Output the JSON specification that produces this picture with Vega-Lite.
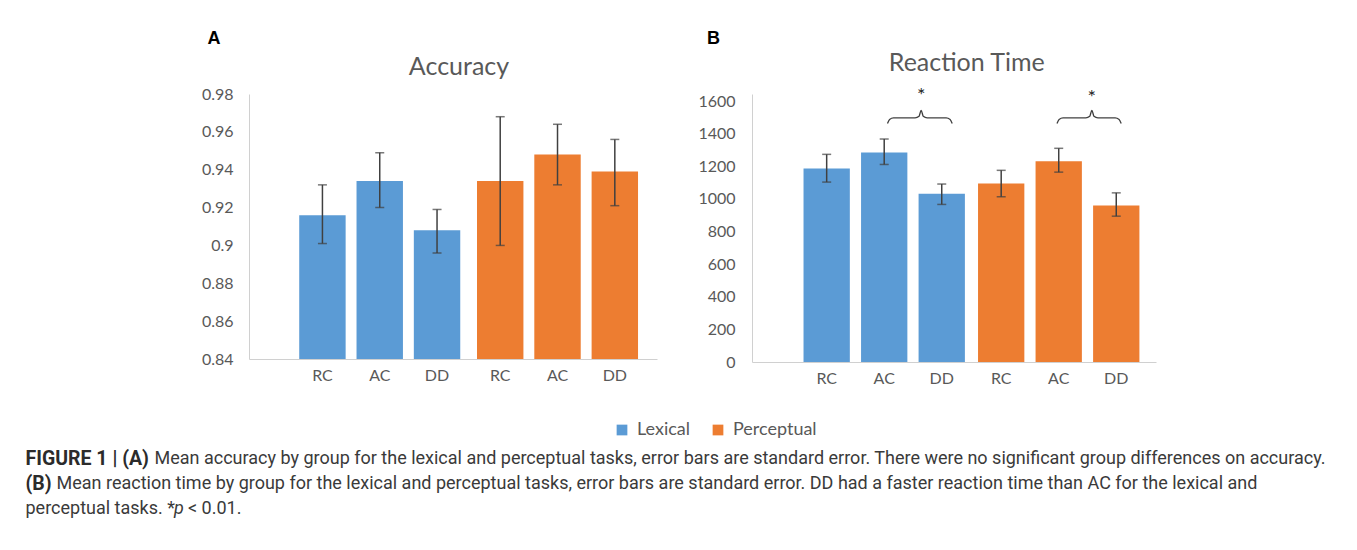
{
  "$schema": "https://vega.github.io/schema/vega-lite/v6.json",
  "padding": {"left": 25, "top": 29, "right": 0, "bottom": 0},
  "background": "white",
  "config": {
    "view": {"stroke": null},
    "font": "Lato",
    "axis": {"grid": false, "ticks": false, "labelFont": "Lato", "labelColor": "#595959", "labelFontSize": 16, "domainColor": "#d0d0d0", "labelOverlap": false, "titleFont": "Lato", "titleFontSize": 25, "titleFontWeight": "normal", "titleColor": "#595959"}
  },
  "datasets": {
    "accuracy": [
      {"task": "Lexical", "subject": "RC", "mean": 0.916, "lo": 0.901, "hi": 0.932},
      {"task": "Lexical", "subject": "AC", "mean": 0.934, "lo": 0.920, "hi": 0.949},
      {"task": "Lexical", "subject": "DD", "mean": 0.908, "lo": 0.896, "hi": 0.919},
      {"task": "Perceptual", "subject": "RC", "mean": 0.934, "lo": 0.900, "hi": 0.968},
      {"task": "Perceptual", "subject": "AC", "mean": 0.948, "lo": 0.932, "hi": 0.964},
      {"task": "Perceptual", "subject": "DD", "mean": 0.939, "lo": 0.921, "hi": 0.956}
    ],
    "rt": [
      {"task": "Lexical", "subject": "RC", "mean": 1187, "lo": 1103, "hi": 1273},
      {"task": "Lexical", "subject": "AC", "mean": 1285, "lo": 1211, "hi": 1367},
      {"task": "Lexical", "subject": "DD", "mean": 1031, "lo": 966, "hi": 1091},
      {"task": "Perceptual", "subject": "RC", "mean": 1095, "lo": 1013, "hi": 1175},
      {"task": "Perceptual", "subject": "AC", "mean": 1230, "lo": 1164, "hi": 1310},
      {"task": "Perceptual", "subject": "DD", "mean": 960, "lo": 894, "hi": 1037}
    ],
    "brace": [
      {"task": "Lexical", "u": 0.519, "v": 1462},
      {"task": "Lexical", "u": 0.531, "v": 1487},
      {"task": "Lexical", "u": 0.554, "v": 1497},
      {"task": "Lexical", "u": 0.679, "v": 1497},
      {"task": "Lexical", "u": 0.702, "v": 1507},
      {"task": "Lexical", "u": 0.714, "v": 1543},
      {"task": "Lexical", "u": 0.726, "v": 1507},
      {"task": "Lexical", "u": 0.749, "v": 1497},
      {"task": "Lexical", "u": 0.859, "v": 1497},
      {"task": "Lexical", "u": 0.882, "v": 1487},
      {"task": "Lexical", "u": 0.894, "v": 1462},
      {"task": "Perceptual", "u": 0.490, "v": 1462},
      {"task": "Perceptual", "u": 0.502, "v": 1487},
      {"task": "Perceptual", "u": 0.525, "v": 1497},
      {"task": "Perceptual", "u": 0.657, "v": 1497},
      {"task": "Perceptual", "u": 0.680, "v": 1507},
      {"task": "Perceptual", "u": 0.692, "v": 1543},
      {"task": "Perceptual", "u": 0.704, "v": 1507},
      {"task": "Perceptual", "u": 0.727, "v": 1497},
      {"task": "Perceptual", "u": 0.827, "v": 1497},
      {"task": "Perceptual", "u": 0.850, "v": 1487},
      {"task": "Perceptual", "u": 0.862, "v": 1462}
    ],
    "stars": [
      {"task": "Lexical", "u": 0.714, "v": 1667, "label": "*"},
      {"task": "Perceptual", "u": 0.692, "v": 1655, "label": "*"}
    ]
  },
  "spacing": 59,
  "vconcat": [
    {
      "spacing": 40,
      "hconcat": [
        {
          "width": 408,
          "height": 265,
          "title": {"text": "A", "anchor": "start", "frame": "bounds", "font": "Liberation Sans", "fontSize": 18, "fontWeight": "bold", "color": "#000000", "dx": 6, "offset": 6.3},
          "data": {"name": "accuracy"},
          "encoding": {
            "x": {"field": "task", "type": "nominal", "scale": {"domain": ["Lexical", "Perceptual"], "paddingInner": 0.033, "paddingOuter": 0.164, "align": 0.768}, "axis": {"labels": false, "ticks": false, "title": "Accuracy", "titleX": 209.5, "titleY": -285, "titleAlign": "center", "titleBaseline": "alphabetic", "titleAnchor": null, "domainColor": "#d0d0d0"}},
            "xOffset": {"field": "subject", "type": "nominal", "scale": {"domain": ["RC", "AC", "DD"], "paddingInner": 0.19, "paddingOuter": 0.095}}
          },
          "layer": [
            {
              "mark": {"type": "bar"},
              "encoding": {
                "y": {"field": "mean", "type": "quantitative", "scale": {"domain": [0.84, 0.98], "zero": false, "nice": false}, "axis": {"values": [0.84, 0.86, 0.88, 0.9, 0.92, 0.94, 0.96, 0.98], "format": ".2~f", "labelPadding": 16, "labelOverlap": false, "title": null, "domainColor": "#d0d0d0"}},
                "y2": {"datum": 0.84},
                "color": {"field": "task", "type": "nominal", "scale": {"domain": ["Lexical", "Perceptual"], "range": ["#5B9BD5", "#ED7D31"]}, "legend": {"orient": "none", "legendX": 364, "legendY": 327, "direction": "horizontal", "title": null, "symbolType": "square", "symbolSize": 115, "symbolStrokeWidth": 0, "labelFont": "Lato", "labelFontSize": 18, "labelColor": "#595959", "columnPadding": 18, "labelOffset": 6, "padding": 0}}
              }
            },
            {
              "mark": {"type": "rule", "color": "#404040", "strokeWidth": 1.5},
              "encoding": {"y": {"field": "lo", "type": "quantitative", "scale": {"domain": [0.84, 0.98]}, "axis": {"values": [0.84, 0.86, 0.88, 0.9, 0.92, 0.94, 0.96, 0.98], "format": ".2~f", "labelPadding": 16, "labelOverlap": false, "title": null}}, "y2": {"field": "hi"}}
            },
            {
              "mark": {"type": "tick", "orient": "horizontal", "size": 9, "thickness": 1.5, "color": "#404040"},
              "encoding": {"y": {"field": "lo", "type": "quantitative", "scale": {"domain": [0.84, 0.98]}, "axis": {"values": [0.84, 0.86, 0.88, 0.9, 0.92, 0.94, 0.96, 0.98], "format": ".2~f", "labelPadding": 16, "labelOverlap": false, "title": null}}}
            },
            {
              "mark": {"type": "tick", "orient": "horizontal", "size": 9, "thickness": 1.5, "color": "#404040"},
              "encoding": {"y": {"field": "hi", "type": "quantitative", "scale": {"domain": [0.84, 0.98]}, "axis": {"values": [0.84, 0.86, 0.88, 0.9, 0.92, 0.94, 0.96, 0.98], "format": ".2~f", "labelPadding": 16, "labelOverlap": false, "title": null}}}
            },
            {
              "mark": {"type": "text", "baseline": "top", "dy": 9, "font": "Lato", "fontSize": 16, "color": "#595959"},
              "encoding": {"y": {"datum": 0.84, "type": "quantitative", "scale": {"domain": [0.84, 0.98]}, "axis": {"values": [0.84, 0.86, 0.88, 0.9, 0.92, 0.94, 0.96, 0.98], "format": ".2~f", "labelPadding": 16, "labelOverlap": false, "title": null}}, "text": {"field": "subject"}}
            }
          ]
        },
        {
          "width": 404,
          "height": 268,
          "title": {"text": "B", "anchor": "start", "frame": "bounds", "font": "Liberation Sans", "fontSize": 18, "fontWeight": "bold", "color": "#000000", "dx": 9, "offset": 2.6},
          "resolve": {"scale": {"xOffset": "independent"}},
          "layer": [
            {
              "data": {"name": "rt"},
              "encoding": {
                "x": {"field": "task", "type": "nominal", "scale": {"domain": ["Lexical", "Perceptual"], "paddingInner": 0.011, "paddingOuter": 0.163, "align": 0.807}, "axis": {"labels": false, "ticks": false, "title": "Reaction Time", "titleX": 214.3, "titleY": -291.7, "titleAlign": "center", "titleBaseline": "alphabetic", "titleAnchor": null, "domainColor": "#d0d0d0"}},
                "xOffset": {"field": "subject", "type": "nominal", "scale": {"domain": ["RC", "AC", "DD"], "paddingInner": 0.195, "paddingOuter": 0.0975}}
              },
              "layer": [
                {
                  "mark": {"type": "bar"},
                  "encoding": {
                    "y": {"field": "mean", "type": "quantitative", "scale": {"domain": [0, 1643], "nice": false}, "axis": {"values": [0, 200, 400, 600, 800, 1000, 1200, 1400, 1600], "format": "d", "labelPadding": 17, "labelOverlap": false, "title": null, "domainColor": "#d0d0d0"}},
                    "y2": {"datum": 0},
                    "color": {"field": "task", "type": "nominal", "scale": {"domain": ["Lexical", "Perceptual"], "range": ["#5B9BD5", "#ED7D31"]}, "legend": {"orient": "none", "legendX": 364, "legendY": 327, "direction": "horizontal", "title": null, "symbolType": "square", "symbolSize": 115, "symbolStrokeWidth": 0, "labelFont": "Lato", "labelFontSize": 18, "labelColor": "#595959", "columnPadding": 18, "labelOffset": 6, "padding": 0}}
                  }
                },
                {
                  "mark": {"type": "rule", "color": "#404040", "strokeWidth": 1.5},
                  "encoding": {"y": {"field": "lo", "type": "quantitative", "scale": {"domain": [0, 1643]}, "axis": {"values": [0, 200, 400, 600, 800, 1000, 1200, 1400, 1600], "format": "d", "labelPadding": 17, "labelOverlap": false, "title": null}}, "y2": {"field": "hi"}}
                },
                {
                  "mark": {"type": "tick", "orient": "horizontal", "size": 9, "thickness": 1.5, "color": "#404040"},
                  "encoding": {"y": {"field": "lo", "type": "quantitative", "scale": {"domain": [0, 1643]}, "axis": {"values": [0, 200, 400, 600, 800, 1000, 1200, 1400, 1600], "format": "d", "labelPadding": 17, "labelOverlap": false, "title": null}}}
                },
                {
                  "mark": {"type": "tick", "orient": "horizontal", "size": 9, "thickness": 1.5, "color": "#404040"},
                  "encoding": {"y": {"field": "hi", "type": "quantitative", "scale": {"domain": [0, 1643]}, "axis": {"values": [0, 200, 400, 600, 800, 1000, 1200, 1400, 1600], "format": "d", "labelPadding": 17, "labelOverlap": false, "title": null}}}
                },
                {
                  "mark": {"type": "text", "baseline": "top", "dy": 9, "font": "Lato", "fontSize": 16, "color": "#595959"},
                  "encoding": {"y": {"datum": 0, "type": "quantitative", "scale": {"domain": [0, 1643]}, "axis": {"values": [0, 200, 400, 600, 800, 1000, 1200, 1400, 1600], "format": "d", "labelPadding": 17, "labelOverlap": false, "title": null}}, "text": {"field": "subject"}}
                }
              ]
            },
            {
              "layer": [
                {
                  "data": {"name": "brace"},
                  "mark": {"type": "line", "interpolate": "monotone", "color": "#404040", "strokeWidth": 1.3},
                  "encoding": {
                    "x": {"field": "task", "type": "nominal", "axis": {"labels": false, "ticks": false, "title": "Reaction Time", "titleX": 214.3, "titleY": -291.7, "titleAlign": "center", "titleBaseline": "alphabetic", "titleAnchor": null}},
                    "xOffset": {"field": "u", "type": "quantitative", "scale": {"domain": [0, 1], "nice": false, "zero": false}},
                    "y": {"field": "v", "type": "quantitative", "scale": {"domain": [0, 1643]}, "axis": {"values": [0, 200, 400, 600, 800, 1000, 1200, 1400, 1600], "format": "d", "labelPadding": 17, "labelOverlap": false, "title": null}},
                    "detail": {"field": "task"},
                    "order": {"field": "u"}
                  }
                },
                {
                  "data": {"name": "stars"},
                  "mark": {"type": "text", "font": "Lato", "fontSize": 20, "color": "#262626", "baseline": "middle", "dy": 6},
                  "encoding": {
                    "x": {"field": "task", "type": "nominal", "axis": {"labels": false, "ticks": false, "title": "Reaction Time", "titleX": 214.3, "titleY": -291.7, "titleAlign": "center", "titleBaseline": "alphabetic", "titleAnchor": null}},
                    "xOffset": {"field": "u", "type": "quantitative", "scale": {"domain": [0, 1], "nice": false, "zero": false}},
                    "y": {"field": "v", "type": "quantitative", "scale": {"domain": [0, 1643]}, "axis": {"values": [0, 200, 400, 600, 800, 1000, 1200, 1400, 1600], "format": "d", "labelPadding": 17, "labelOverlap": false, "title": null}},
                    "text": {"field": "label"}
                  }
                }
              ]
            }
          ]
        }
      ]
    },
    {
      "width": 1050,
      "height": 75,
      "layer": [
        {
          "data": {"values": [{"line": 1, "text": "FIGURE 1 | (A)"}, {"line": 2, "text": "(B)"}]},
          "mark": {"type": "text", "align": "left", "baseline": "middle", "font": "Roboto", "fontSize": 19.5, "fontWeight": "bold", "color": "#2b2b2b", "dx": -223.5},
          "encoding": {
            "x": {"datum": 0, "type": "quantitative", "scale": {"domain": [0, 1]}, "axis": null},
            "y": {"field": "line", "type": "ordinal", "scale": {"domain": [1, 2, 3]}, "axis": null},
            "text": {"field": "text"}
          }
        },
        {
          "data": {"values": [{"line": 1, "text": "Mean accuracy by group for the lexical and perceptual tasks, error bars are standard error. There were no significant group differences on accuracy."}]},
          "mark": {"type": "text", "align": "left", "baseline": "middle", "font": "Roboto", "fontSize": 18, "color": "#3a3a3a", "dx": -94.5},
          "encoding": {
            "x": {"datum": 0, "type": "quantitative", "scale": {"domain": [0, 1]}, "axis": null},
            "y": {"field": "line", "type": "ordinal", "scale": {"domain": [1, 2, 3]}, "axis": null},
            "text": {"field": "text"}
          }
        },
        {
          "data": {"values": [{"line": 2, "text": "Mean reaction time by group for the lexical and perceptual tasks, error bars are standard error. DD had a faster reaction time than AC for the lexical and"}]},
          "mark": {"type": "text", "align": "left", "baseline": "middle", "font": "Roboto", "fontSize": 18, "color": "#3a3a3a", "dx": -192.5},
          "encoding": {
            "x": {"datum": 0, "type": "quantitative", "scale": {"domain": [0, 1]}, "axis": null},
            "y": {"field": "line", "type": "ordinal", "scale": {"domain": [1, 2, 3]}, "axis": null},
            "text": {"field": "text"}
          }
        },
        {
          "data": {"values": [{"line": 3, "text": "perceptual tasks. *"}]},
          "mark": {"type": "text", "align": "left", "baseline": "middle", "font": "Roboto", "fontSize": 18, "color": "#3a3a3a", "dx": -223.5},
          "encoding": {
            "x": {"datum": 0, "type": "quantitative", "scale": {"domain": [0, 1]}, "axis": null},
            "y": {"field": "line", "type": "ordinal", "scale": {"domain": [1, 2, 3]}, "axis": null},
            "text": {"field": "text"}
          }
        },
        {
          "data": {"values": [{"line": 3, "text": "p"}]},
          "mark": {"type": "text", "align": "left", "baseline": "middle", "font": "Roboto", "fontSize": 18, "fontStyle": "italic", "color": "#3a3a3a", "dx": -75},
          "encoding": {
            "x": {"datum": 0, "type": "quantitative", "scale": {"domain": [0, 1]}, "axis": null},
            "y": {"field": "line", "type": "ordinal", "scale": {"domain": [1, 2, 3]}, "axis": null},
            "text": {"field": "text"}
          }
        },
        {
          "data": {"values": [{"line": 3, "text": "< 0.01."}]},
          "mark": {"type": "text", "align": "left", "baseline": "middle", "font": "Roboto", "fontSize": 18, "color": "#3a3a3a", "dx": -61},
          "encoding": {
            "x": {"datum": 0, "type": "quantitative", "scale": {"domain": [0, 1]}, "axis": null},
            "y": {"field": "line", "type": "ordinal", "scale": {"domain": [1, 2, 3]}, "axis": null},
            "text": {"field": "text"}
          }
        }
      ]
    }
  ]
}
